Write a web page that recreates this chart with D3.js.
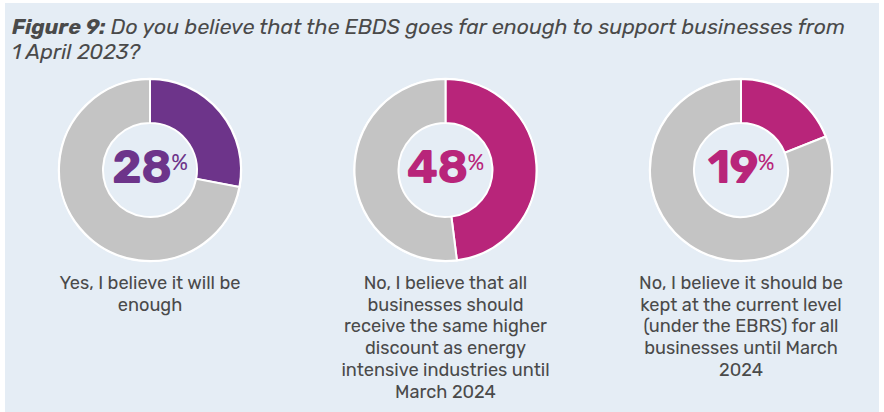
<!DOCTYPE html>
<html>
<head>
<meta charset="utf-8">
<script src="https://cdn.jsdelivr.net/npm/d3@7"></script>
<style>
  html, body { margin: 0; padding: 0; background: #ffffff; }
  svg { display: block; }
</style>
</head>
<body>
<svg id="chart" width="884" height="412"></svg>
<script>
// Survey answers: share of respondents per option (percent)
const answers = [
  "Yes, I believe it will be enough",
  "No, I believe that all businesses should receive the same higher discount as energy intensive industries until March 2024",
  "No, I believe it should be kept at the current level (under the EBRS) for all businesses until March 2024"
];
const shares = [28, 48, 19];
const accentColors = ["#6d348a", "#b8257a", "#b8257a"];
const labelLines = [
  ["Yes, I believe it will be", "enough"],
  ["No, I believe that all", "businesses should", "receive the same higher", "discount as energy", "intensive industries until", "March 2024"],
  ["No, I believe it should be", "kept at the current level", "(under the EBRS) for all", "businesses until March", "2024"]
];

const W = 884, H = 412;
const svg = d3.select("#chart");

// panel background
svg.append("rect").attr("x", 5).attr("y", 3).attr("width", 874).attr("height", 409)
  .attr("fill", "#e5edf5");

// title
const title = svg.append("g").attr("font-family", "Rubik, 'Open Sans', sans-serif")
  .attr("font-style", "italic").attr("font-size", 21.4).attr("fill", "#4a4a4a");
const t1 = title.append("text").attr("x", 12).attr("y", 34);
t1.append("tspan").attr("font-weight", 700).text("Figure 9:");
t1.append("tspan").text(" Do you believe that the EBDS goes far enough to support businesses from");
title.append("text").attr("x", 12).attr("y", 59).text("1 April 2023?");

// horizontal placement of each donut
const x = d3.scalePoint().domain(d3.range(shares.length)).range([150, 741]);
const cy = 170, rOuter = 91, rInner = 47;

const pie = d3.pie().sort(null).value(d => d);
const arc = d3.arc().innerRadius(rInner).outerRadius(rOuter);

shares.forEach((v, i) => {
  const g = svg.append("g").attr("transform", `translate(${x(i)},${cy})`);
  const slices = pie([v, 100 - v]);
  g.selectAll("path").data(slices).join("path")
    .attr("d", arc)
    .attr("fill", (d, j) => j === 0 ? accentColors[i] : "#c4c4c4")
    .attr("stroke", "#ffffff").attr("stroke-width", 2).attr("stroke-linejoin", "miter");
  g.append("circle").attr("r", rOuter + 0.5).attr("fill", "none")
    .attr("stroke", "#ffffff").attr("stroke-width", 1.5);

  // centre value
  const txt = g.append("text").attr("text-anchor", "middle").attr("y", 13)
    .attr("font-family", "Rubik, 'Open Sans', sans-serif").attr("fill", accentColors[i]);
  txt.append("tspan").attr("font-size", 46).attr("font-weight", 700).attr("letter-spacing", -1).text(v);
  txt.append("tspan").attr("font-size", 22).attr("font-weight", 400).attr("dy", -13).text("%");

  // answer label
  const lab = svg.append("text").attr("text-anchor", "middle")
    .attr("font-family", "Rubik, 'Open Sans', sans-serif").attr("font-size", 18.2)
    .attr("fill", "#4a4a4a");
  labelLines[i].forEach((line, k) => {
    lab.append("tspan").attr("x", x(i)).attr("y", 289 + k * 21.7).text(line);
  });
});
</script>
</body>
</html>
